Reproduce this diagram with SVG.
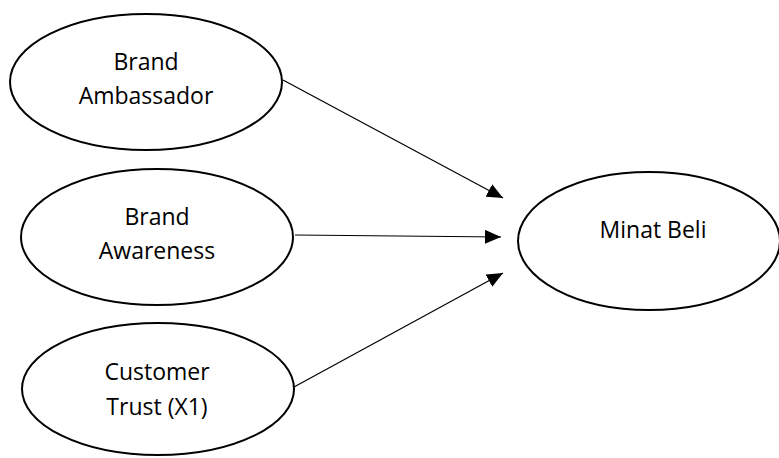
<svg xmlns="http://www.w3.org/2000/svg" width="779" height="458" viewBox="0 0 779 458">
<style>
.node ellipse{fill:#fff;stroke:#000;stroke-width:2}
.node text{font-family:"Open Sans","Liberation Sans",sans-serif;font-size:23px;fill:#000;text-anchor:middle}
.edge{stroke:#000;stroke-width:1.2;fill:none}
</style>
<defs>
<marker id="ah" viewBox="0 0 16 14" refX="16" refY="7" markerWidth="16" markerHeight="14" markerUnits="userSpaceOnUse" orient="auto">
<path d="M0,0 L16,7 L0,14 Z" fill="#000"/>
</marker>
</defs>
<rect width="779" height="458" fill="#fff"/>
<g id="connectors">
<line class="edge" x1="283" y1="80" x2="503" y2="198" marker-end="url(#ah)"/>
<line class="edge" x1="295" y1="235" x2="501" y2="237" marker-end="url(#ah)"/>
<line class="edge" x1="294" y1="387" x2="503" y2="273" marker-end="url(#ah)"/>
</g>
<g id="brand-ambassador" class="node">
<ellipse cx="146" cy="82" rx="136" ry="68"/>
<text x="146" y="70">Brand</text>
<text x="146" y="104">Ambassador</text>
</g>
<g id="brand-awareness" class="node">
<ellipse cx="157" cy="237" rx="136" ry="68"/>
<text x="157" y="225">Brand</text>
<text x="157" y="259">Awareness</text>
</g>
<g id="customer-trust" class="node">
<ellipse cx="158" cy="389" rx="136" ry="66"/>
<text x="157" y="380">Customer</text>
<text x="157" y="415">Trust (X1)</text>
</g>
<g id="minat-beli" class="node">
<ellipse cx="649" cy="241" rx="131" ry="69"/>
<text x="653" y="238">Minat Beli</text>
</g>
</svg>
